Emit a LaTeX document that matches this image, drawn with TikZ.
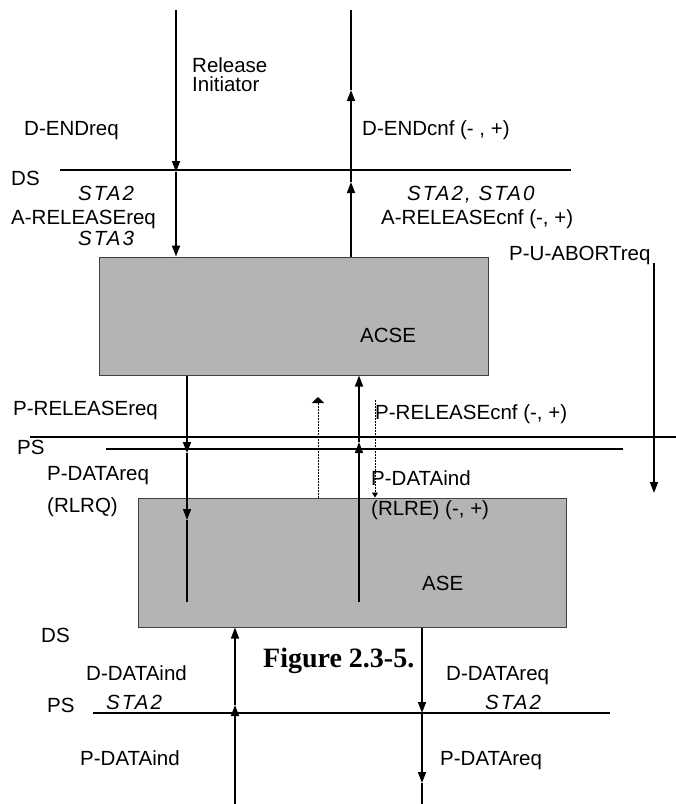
\documentclass[tikz,border=0pt]{standalone}
\usepackage{fontspec}
\setmainfont{Liberation Sans}
\newfontfamily\stafont[LetterSpace=10]{Liberation Sans}
\newfontfamily\figfont{Liberation Serif}
\usetikzlibrary{arrows.meta}
\definecolor{boxgray}{RGB}{180,180,180}
\begin{document}
\begin{tikzpicture}[x=1pt,y=-1pt,
  lbl/.style={anchor=base west, inner sep=0pt, font=\fontsize{20.5}{24}\selectfont},
  sta/.style={anchor=base west, inner sep=0pt, font=\fontsize{20.5}{24}\stafont\itshape},
  wire/.style={line width=1.6pt},
  arr/.style={wire, -{Triangle[length=11pt,width=8pt]}},
  dots/.style={line width=0.8pt, dash pattern=on 1.5pt off 1.5pt},
  blk/.style={draw=black!75, line width=1pt, fill=boxgray, inner sep=0pt}
]
\useasboundingbox (0,0) rectangle (676,804);

% boxes
\node[blk, minimum width=389pt, minimum height=118pt] (acse) at (293.5,316) {};
\node[blk, minimum width=428pt, minimum height=129pt] (ase) at (352,562.5) {};

% layer lines
\coordinate (dsA) at (60,170);  \coordinate (dsB) at (571,170);
\coordinate (psA) at (30,437);  \coordinate (psB) at (676,437);
\coordinate (psC) at (106,449); \coordinate (psD) at (623,449);
\coordinate (psE) at (93,713);  \coordinate (psF) at (610,713);
\draw[wire] (dsA) -- (dsB);
\draw[wire] (psA) -- (psB);
\draw[wire] (psC) -- (psD);
\draw[wire] (psE) -- (psF);

% top left arrow (down)
\coordinate (tlTop) at (176,10);
\coordinate (tlDS) at (176,172);
\draw[arr] (tlTop) -- (tlDS);
\draw[arr] (tlDS) -- (tlDS |- acse.north);

% top right arrow (up)
\coordinate (trTop) at (351,10);
\coordinate (trHi) at (351,90);
\coordinate (trDS) at (351,182);
\draw[arr] (trDS |- acse.north) -- (trDS);
\draw[arr] (trDS) -- (trHi);
\draw[wire] (trHi) -- (trTop);

% middle left arrow (down)
\coordinate (mlPS) at (187,453);
\coordinate (mlIn) at (187,520);
\coordinate (mlEnd) at (187,602);
\draw[arr] (mlPS |- acse.south) -- (mlPS);
\draw[arr] (mlPS) -- (mlIn);
\draw[wire] (mlIn) -- (mlEnd);

% middle right arrow (up)
\coordinate (mrEnd) at (359,602);
\coordinate (mrPS) at (359,442);
\draw[arr] (mrEnd) -- (mrPS);
\draw[arr] (mrPS) -- (mrPS |- acse.south);

% dotted arrows
\coordinate (dotUp) at (318,397);
\coordinate (dotDn) at (375,400);
\draw[dots, -{Triangle[length=6pt,width=12pt]}] (dotUp |- ase.north) -- (dotUp);
\draw[dots, -{Triangle[length=5pt,width=6pt]}] (dotDn) -- (dotDn |- ase.north);

% P-U-ABORT arrow
\coordinate (puA) at (654,263);
\coordinate (puB) at (654,493);
\draw[arr] (puA) -- (puB);

% bottom left arrow (up)
\coordinate (blBot) at (235,804);
\coordinate (blPS) at (235,705);
\draw[arr] (blBot) -- (blPS);
\draw[arr] (blPS) -- (blPS |- ase.south);

% bottom right arrow (down)
\coordinate (brPS) at (422,713);
\coordinate (brLow) at (422,783);
\coordinate (brBot) at (422,804);
\draw[arr] (brPS |- ase.south) -- (brPS);
\draw[arr] (brPS) -- (brLow);
\draw[wire] (brLow) -- (brBot);

% labels
\node[lbl] (t1) at (192,72) {Release};
\node[lbl] (t2) at (192,91) {Initiator};
\node[lbl] (t3) at (24,135) {D-ENDreq};
\node[lbl] (t4) at (362,135) {D-ENDcnf (- , +)};
\node[lbl] (t5) at (11,185) {DS};
\node[sta] (t6) at (78,200) {STA2};
\node[lbl] (t7) at (11,224) {A-RELEASEreq};
\node[sta] (t8) at (78,245) {STA3};
\node[sta] (t9) at (407,200) {STA2, STA0};
\node[lbl] (t10) at (381,224) {A-RELEASEcnf (-, +)};
\node[lbl] (t11) at (509,260) {P-U-ABORTreq};
\node[lbl] (t12) at (360,342) {ACSE};
\node[lbl] (t13) at (13,415) {P-RELEASEreq};
\node[lbl] (t14) at (375,419) {P-RELEASEcnf (-, +)};
\node[lbl] (t15) at (17,454) {PS};
\node[lbl] (t16) at (47,480) {P-DATAreq};
\node[lbl] (t17) at (47,512) {(RLRQ)};
\node[lbl] (t18) at (371,485) {P-DATAind};
\node[lbl] (t19) at (371,515) {(RLRE) (-, +)};
\node[lbl] (t20) at (422,590) {ASE};
\node[lbl] (t21) at (41,642) {DS};
\node[anchor=base west, inner sep=0pt, font=\fontsize{28}{32}\figfont\bfseries] (fig) at (263,667) {Figure 2.3-5.};
\node[lbl] (t22) at (86,680) {D-DATAind};
\node[sta] (t23) at (106,709) {STA2};
\node[lbl] (t24) at (47,712) {PS};
\node[lbl] (t25) at (446,680) {D-DATAreq};
\node[sta] (t26) at (485,709) {STA2};
\node[lbl] (t27) at (80,765) {P-DATAind};
\node[lbl] (t28) at (440,765) {P-DATAreq};
\end{tikzpicture}
\end{document}
